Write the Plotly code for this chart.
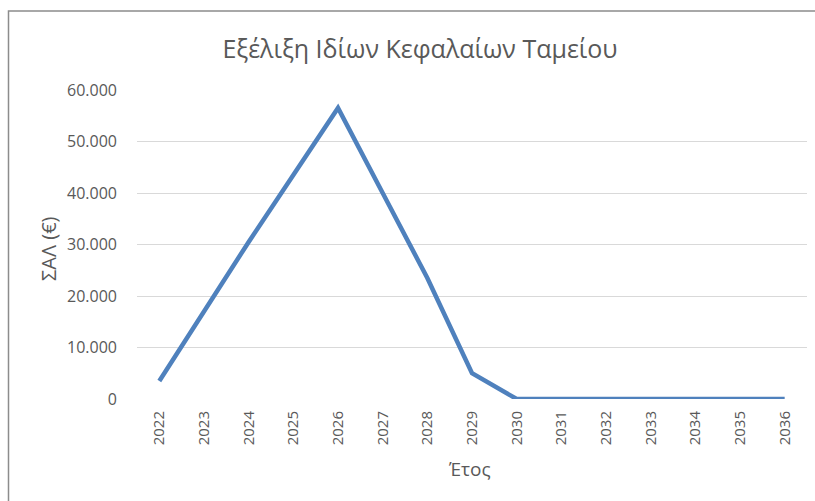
import plotly.graph_objects as go

years = ["2022", "2023", "2024", "2025", "2026", "2027", "2028", "2029",
         "2030", "2031", "2032", "2033", "2034", "2035", "2036"]
sal_values = [3500, 17000, 30500, 43500, 56500, 40000, 23500, 5000,
              0, 0, 0, 0, 0, 0, 0]
y_ticks = [0, 10000, 20000, 30000, 40000, 50000, 60000]

title_text = "Εξέλιξη Ιδίων Κεφαλαίων Ταμείου"
x_title = "Έτος"
y_title = "ΣΑΛ (€)"

W, H = 815, 501
L, R, T, B = 137, 8, 90, 102
pw, ph = W - L - R, H - T - B

def px_x(px):
    return (px - L) / pw

def px_y(py):
    return 1 - (py - T) / ph

fig = go.Figure()
fig.add_trace(go.Scatter(
    x=years, y=sal_values, mode="lines",
    line=dict(color="#4F81BD", width=4.5),
    hoverinfo="x+y",
))

font_fam = "Open Sans, Noto Sans, sans-serif"
grey = "#595959"

fig.update_layout(
    width=W, height=H,
    margin=dict(l=L, r=R, t=T, b=B),
    paper_bgcolor="white", plot_bgcolor="white",
    separators=",.",
    showlegend=False,
    title=dict(text=title_text, x=px_x(420), xref="paper", xanchor="center",
               y=1 - 49 / H, yref="container", yanchor="middle",
               font=dict(family=font_fam, size=25, color=grey)),
    xaxis=dict(
        type="category", range=[-0.5, len(years) - 0.5],
        tickangle=-90, showgrid=False, zeroline=False, showline=False,
        ticks="", tickfont=dict(family=font_fam, size=15, color=grey),
        ticklabelstandoff=8,
    ),
    yaxis=dict(
        range=[0, 60000], tickvals=y_ticks, tickformat=",d",
        showgrid=True, gridcolor="#D9D9D9", gridwidth=1,
        zeroline=False, showline=False, ticks="",
        tickfont=dict(family=font_fam, size=16, color=grey),
        ticklabelstandoff=19,
    ),
    annotations=[
        dict(text=x_title, xref="paper", yref="paper", x=px_x(469), y=px_y(469),
             xanchor="center", yanchor="middle", showarrow=False,
             font=dict(family=font_fam, size=19, color=grey)),
        dict(text=y_title, xref="paper", yref="paper", x=px_x(48), y=px_y(248),
             xanchor="center", yanchor="middle", showarrow=False, textangle=-90,
             font=dict(family=font_fam, size=20, color=grey)),
    ],
    shapes=[
        dict(type="rect", xref="paper", yref="paper",
             x0=px_x(8.5), x1=px_x(830), y0=px_y(520), y1=px_y(11),
             line=dict(color="#8C8C8C", width=1.5), fillcolor="rgba(0,0,0,0)",
             layer="below"),
    ],
)

fig.write_html("out.html", config={"displayModeBar": False},
               post_script="document.body.style.margin='0';")
